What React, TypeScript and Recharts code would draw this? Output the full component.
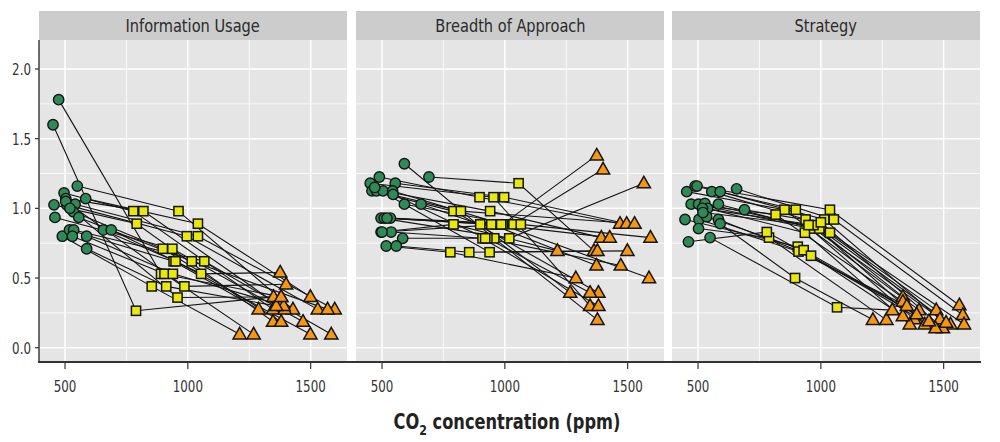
import React from 'react';
import { ComposedChart, Scatter, XAxis, YAxis, CartesianGrid } from 'recharts';

// [circle CO2, circle value, square CO2, square value, triangle CO2, triangle value]
type Subject = [number, number, number, number, number, number];

const panelTitles = ['Information Usage', 'Breadth of Approach', 'Strategy'];
const xTicks = [500, 1000, 1500];
const yTicks = [0, 0.5, 1, 1.5, 2];
const xMinor = [750, 1250];
const yMinor = [0.25, 0.75, 1.25, 1.75];
const xTitleMain = 'CO';
const xTitleSub = '2';
const xTitleRest = ' concentration (ppm)';

const informationUsage: Subject[] = [
  [474, 1.78, 891, 0.53, 1380, 0.365],
  [451, 1.6, 789, 0.265, 1349, 0.365],
  [550, 1.16, 962, 0.98, 1428, 0.275],
  [496, 1.11, 778, 0.98, 1347, 0.275],
  [503, 1.07, 819, 0.98, 1394, 0.275],
  [584, 1.07, 1041, 0.89, 1499, 0.365],
  [455, 1.025, 792, 0.89, 1347, 0.187],
  [507, 1.025, 996, 0.8, 1529, 0.275],
  [541, 1.03, 1041, 0.8, 1598, 0.275],
  [534, 0.975, 898, 0.71, 1380, 0.187],
  [459, 0.935, 937, 0.71, 1469, 0.187],
  [556, 0.935, 1016, 0.62, 1569, 0.275],
  [489, 0.8, 853, 0.44, 1211, 0.096],
  [518, 0.845, 942, 0.62, 1288, 0.275],
  [535, 0.845, 1067, 0.62, 1584, 0.096],
  [530, 0.8, 905, 0.53, 1268, 0.096],
  [588, 0.8, 939, 0.53, 1390, 0.3],
  [656, 0.845, 950, 0.62, 1499, 0.096],
  [688, 0.845, 1054, 0.53, 1376, 0.54],
  [588, 0.71, 912, 0.44, 1360, 0.3],
  [503, 1.05, 986, 0.44, 1400, 0.455],
  [520, 1.0, 958, 0.36, 1380, 0.365],
];

const breadthOfApproach: Subject[] = [
  [591, 1.32, 957, 0.785, 1377, 0.2],
  [691, 1.225, 1056, 1.18, 1363, 0.695],
  [489, 1.225, 897, 1.08, 1469, 0.89],
  [452, 1.18, 954, 1.08, 1347, 0.3],
  [554, 1.18, 997, 1.08, 1496, 0.89],
  [459, 1.125, 791, 0.98, 1381, 0.395],
  [477, 1.125, 821, 0.98, 1528, 0.89],
  [504, 1.125, 940, 0.98, 1393, 0.79],
  [543, 1.125, 991, 0.885, 1374, 1.38],
  [591, 1.03, 1035, 0.885, 1400, 1.28],
  [659, 1.03, 900, 0.885, 1266, 0.395],
  [496, 0.93, 1018, 0.785, 1566, 1.18],
  [509, 0.93, 961, 0.885, 1427, 0.79],
  [534, 0.93, 1065, 0.885, 1593, 0.79],
  [496, 0.83, 791, 0.885, 1214, 0.695],
  [537, 0.83, 909, 0.785, 1381, 0.3],
  [584, 0.785, 929, 0.785, 1347, 0.395],
  [517, 0.73, 778, 0.685, 1289, 0.5],
  [558, 0.73, 855, 0.685, 1377, 0.695],
  [470, 1.15, 938, 0.685, 1499, 0.695],
  [520, 0.93, 945, 0.885, 1373, 0.59],
  [545, 1.1, 920, 0.785, 1472, 0.59],
  [500, 0.83, 985, 0.885, 1587, 0.5],
];

const strategy: Subject[] = [
  [454, 1.12, 852, 0.99, 1400, 0.27],
  [488, 1.16, 898, 0.99, 1470, 0.27],
  [496, 1.16, 1037, 0.99, 1564, 0.305],
  [556, 1.12, 938, 0.92, 1334, 0.365],
  [590, 1.12, 1014, 0.92, 1485, 0.205],
  [657, 1.14, 1053, 0.92, 1578, 0.235],
  [472, 1.03, 816, 0.955, 1334, 0.33],
  [502, 1.03, 956, 0.855, 1380, 0.205],
  [528, 1.035, 994, 0.855, 1528, 0.168],
  [539, 1.0, 935, 0.825, 1362, 0.168],
  [583, 1.03, 1037, 0.825, 1583, 0.168],
  [518, 1.0, 970, 0.88, 1423, 0.168],
  [689, 0.99, 1000, 0.9, 1497, 0.14],
  [447, 0.92, 906, 0.725, 1334, 0.227],
  [504, 0.92, 909, 0.69, 1350, 0.3],
  [535, 0.94, 930, 0.7, 1390, 0.24],
  [583, 0.92, 960, 0.66, 1467, 0.14],
  [590, 0.89, 895, 0.5, 1212, 0.2],
  [502, 0.855, 789, 0.79, 1267, 0.2],
  [549, 0.79, 1066, 0.29, 1291, 0.27],
  [461, 0.76, 780, 0.83, 1440, 0.19],
  [520, 0.97, 950, 0.88, 1510, 0.18],
];

const panelData = [informationUsage, breadthOfApproach, strategy];

const FONT = "'Liberation Sans Narrow', 'DejaVu Sans Condensed', 'Arial Narrow', sans-serif";
const GREEN = '#2e8b57';
const YELLOW = '#e8e80a';
const ORANGE = '#f7960f';
const OUTLINE = '#141414';
const TEXT = '#333333';
const X_DOMAIN: [number, number] = [394, 1648];
const Y_DOMAIN: [number, number] = [-0.1025, 2.208];

const PLOT_TOP = 40;
const PLOT_W = 308;
const Y_AXIS_W = 39;
const panelLefts = [0, 356, 672];

const EmptyMark = () => <g />;

const CircleMark = (p: any) => {
  if (p.cx == null || p.cy == null) return <g />;
  return <circle cx={p.cx} cy={p.cy} r={5.2} fill={GREEN} stroke={OUTLINE} strokeWidth={1.4} />;
};

const SquareMark = (p: any) => {
  if (p.cx == null || p.cy == null) return <g />;
  return (
    <rect x={p.cx - 4.6} y={p.cy - 4.6} width={9.2} height={9.2} fill={YELLOW} stroke={OUTLINE} strokeWidth={1.5} />
  );
};

const TriangleMark = (p: any) => {
  if (p.cx == null || p.cy == null) return <g />;
  const { cx, cy } = p;
  return (
    <path
      d={`M${cx},${cy - 7} L${cx + 6.6},${cy + 4.6} L${cx - 6.6},${cy + 4.6} Z`}
      fill={ORANGE}
      stroke={OUTLINE}
      strokeWidth={1.5}
    />
  );
};

const XTick = (p: any) => (
  <text
    transform={`translate(${p.x},${p.y}) scale(0.8,1)`}
    textAnchor="middle"
    dy="0.71em"
    fill={TEXT}
    fontSize={16.5}
    fontFamily={FONT}
  >
    {String(p.payload.value)}
  </text>
);

const YTick = (p: any) => (
  <text
    transform={`translate(${p.x},${p.y}) scale(0.8,1)`}
    textAnchor="end"
    dy="0.36em"
    fill={TEXT}
    fontSize={16.5}
    fontFamily={FONT}
  >
    {Number(p.payload.value).toFixed(1)}
  </text>
);

function Panel({ subjects, title, left, showY }: { subjects: Subject[]; title: string; left: number; showY: boolean }) {
  const circles = subjects.map((s) => ({ x: s[0], y: s[1] }));
  const squares = subjects.map((s) => ({ x: s[2], y: s[3] }));
  const triangles = subjects.map((s) => ({ x: s[4], y: s[5] }));
  const paths = subjects.map((s) => [
    { x: s[0], y: s[1] },
    { x: s[2], y: s[3] },
    { x: s[4], y: s[5] },
  ]);
  const yw = showY ? Y_AXIS_W : 0;
  const width = yw + PLOT_W;
  return (
    <>
      <div
        style={{
          position: 'absolute',
          left: left + yw,
          top: 11,
          width: PLOT_W,
          height: 29,
          background: '#cccccc',
          color: '#2a2a2a',
          fontFamily: FONT,
          fontSize: 18,
          lineHeight: '29px',
          textAlign: 'center',
        }}
      >
        <span style={{ display: 'inline-block', transform: 'scaleX(0.9)' }}>{title}</span>
      </div>
      <div style={{ position: 'absolute', left, top: 0 }}>
        <ComposedChart width={width} height={442} margin={{ top: PLOT_TOP, right: 0, bottom: 40, left: 0 }}>
          <CartesianGrid
            fill="#e5e5e5"
            stroke="#ffffff"
            strokeWidth={0.8}
            horizontalValues={yMinor}
            verticalValues={xMinor}
          />
          <CartesianGrid stroke="#ffffff" strokeWidth={1.5} horizontalValues={yTicks} verticalValues={xTicks} />
          <XAxis
            type="number"
            dataKey="x"
            domain={X_DOMAIN}
            ticks={xTicks}
            interval={0}
            allowDataOverflow
            axisLine={false}
            tickLine={{ stroke: TEXT, strokeWidth: 1.2 }}
            tickSize={7}
            tickMargin={11}
            height={40}
            tick={XTick}
          />
          <YAxis
            type="number"
            dataKey="y"
            domain={Y_DOMAIN}
            ticks={yTicks}
            interval={0}
            allowDataOverflow
            hide={!showY}
            width={yw}
            axisLine={{ stroke: TEXT, strokeWidth: 1.4 }}
            tickLine={{ stroke: TEXT, strokeWidth: 1.2 }}
            tickSize={4}
            tickMargin={4}
            tick={YTick}
          />
          {paths.map((p, i) => (
            <Scatter
              key={`l${i}`}
              data={p}
              line={{ stroke: OUTLINE, strokeWidth: 1.1 }}
              shape={EmptyMark}
              isAnimationActive={false}
            />
          ))}
          <Scatter data={circles} shape={CircleMark} isAnimationActive={false} />
          <Scatter data={squares} shape={SquareMark} isAnimationActive={false} />
          <Scatter data={triangles} shape={TriangleMark} isAnimationActive={false} />
        </ComposedChart>
      </div>
    </>
  );
}

export default function App() {
  return (
    <div style={{ position: 'absolute', left: 0, top: 0, width: 1000, height: 442, background: '#ffffff' }}>
      {panelData.map((d, i) => (
        <Panel key={i} subjects={d} title={panelTitles[i]} left={panelLefts[i]} showY={i === 0} />
      ))}
      <div
        style={{
          position: 'absolute',
          left: 38,
          top: 361.3,
          width: 943,
          height: 1.4,
          background: TEXT,
        }}
      />
      <div
        style={{
          position: 'absolute',
          left: 307,
          top: 408,
          width: 400,
          textAlign: 'center',
          fontFamily: FONT,
          fontWeight: 'bold',
          fontSize: 20.5,
          lineHeight: '28px',
          color: '#222222',
        }}
      >
        <span style={{ display: 'inline-block', transform: 'scaleX(0.88)' }}>
          {xTitleMain}
          <span style={{ fontSize: 14, position: 'relative', top: 6 }}>{xTitleSub}</span>
          {xTitleRest}
        </span>
      </div>
    </div>
  );
}
